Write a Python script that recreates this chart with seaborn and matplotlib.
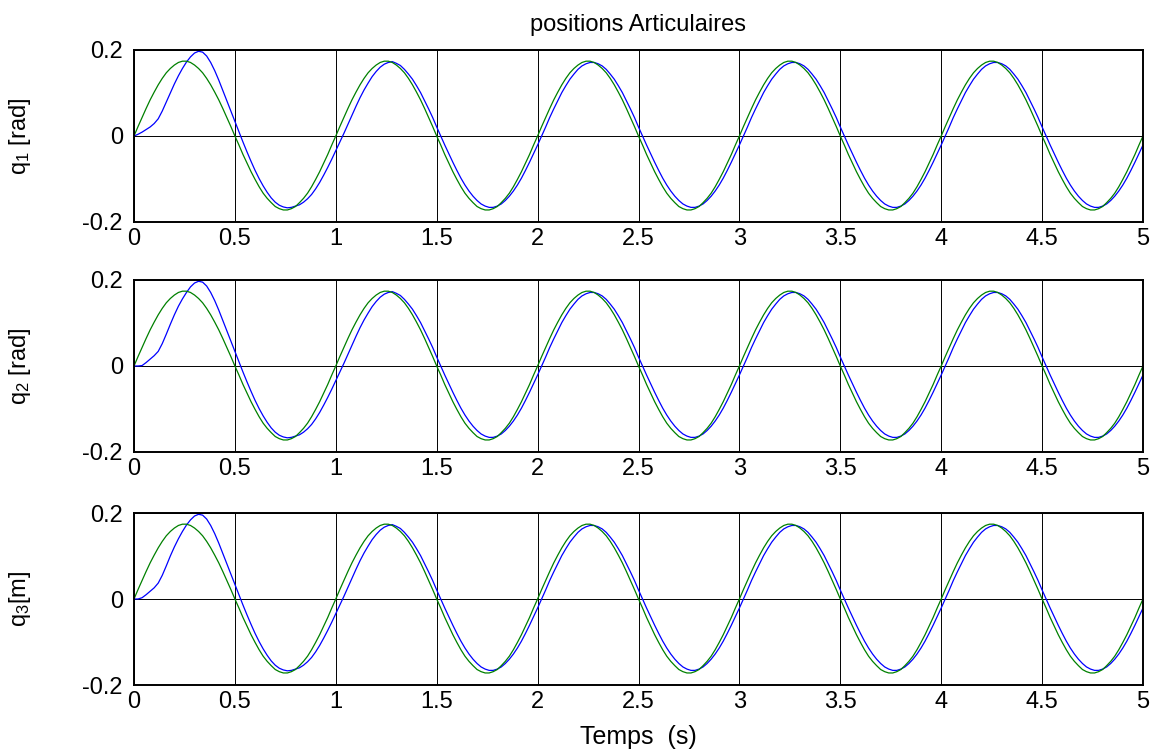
import numpy as np
import pandas as pd
import matplotlib
matplotlib.use("Agg")
import matplotlib.pyplot as plt
import seaborn as sns

t_step = 0.02
n_samples = 251

# reference trajectory (green), same on the three joints
green_ref = [
    0.000, 0.022, 0.043, 0.064, 0.084, 0.102, 0.119, 0.134, 0.147, 0.157,
    0.165, 0.171, 0.174, 0.174, 0.171, 0.165, 0.157, 0.147, 0.134, 0.119,
    0.102, 0.084, 0.064, 0.043, 0.022, 0.000, -0.021, -0.043, -0.063, -0.083,
    -0.101, -0.118, -0.133, -0.145, -0.155, -0.164, -0.169, -0.172, -0.172, -0.169,
    -0.164, -0.155, -0.145, -0.133, -0.118, -0.101, -0.083, -0.063, -0.043, -0.021,
    0.000, 0.022, 0.043, 0.064, 0.084, 0.102, 0.119, 0.134, 0.147, 0.157,
    0.165, 0.171, 0.174, 0.174, 0.171, 0.165, 0.157, 0.147, 0.134, 0.119,
    0.102, 0.084, 0.064, 0.043, 0.022, 0.000, -0.021, -0.043, -0.063, -0.083,
    -0.101, -0.118, -0.133, -0.145, -0.155, -0.164, -0.169, -0.172, -0.172, -0.169,
    -0.164, -0.155, -0.145, -0.133, -0.118, -0.101, -0.083, -0.063, -0.043, -0.021,
    0.000, 0.022, 0.043, 0.064, 0.084, 0.102, 0.119, 0.134, 0.147, 0.157,
    0.165, 0.171, 0.174, 0.174, 0.171, 0.165, 0.157, 0.147, 0.134, 0.119,
    0.102, 0.084, 0.064, 0.043, 0.022, 0.000, -0.021, -0.043, -0.063, -0.083,
    -0.101, -0.118, -0.133, -0.145, -0.155, -0.164, -0.169, -0.172, -0.172, -0.169,
    -0.164, -0.155, -0.145, -0.133, -0.118, -0.101, -0.083, -0.063, -0.043, -0.021,
    0.000, 0.022, 0.043, 0.064, 0.084, 0.102, 0.119, 0.134, 0.147, 0.157,
    0.165, 0.171, 0.174, 0.174, 0.171, 0.165, 0.157, 0.147, 0.134, 0.119,
    0.102, 0.084, 0.064, 0.043, 0.022, 0.000, -0.021, -0.043, -0.063, -0.083,
    -0.101, -0.118, -0.133, -0.145, -0.155, -0.164, -0.169, -0.172, -0.172, -0.169,
    -0.164, -0.155, -0.145, -0.133, -0.118, -0.101, -0.083, -0.063, -0.043, -0.021,
    0.000, 0.022, 0.043, 0.064, 0.084, 0.102, 0.119, 0.134, 0.147, 0.157,
    0.165, 0.171, 0.174, 0.174, 0.171, 0.165, 0.157, 0.147, 0.134, 0.119,
    0.102, 0.084, 0.064, 0.043, 0.022, 0.000, -0.021, -0.043, -0.063, -0.083,
    -0.101, -0.118, -0.133, -0.145, -0.155, -0.164, -0.169, -0.172, -0.172, -0.169,
    -0.164, -0.155, -0.145, -0.133, -0.118, -0.101, -0.083, -0.063, -0.043, -0.021,
    0.000,
]

# measured response of joint 1 (blue)
blue_q1 = [
    0.000, 0.004, 0.009, 0.015, 0.021, 0.029, 0.040, 0.058, 0.079, 0.100,
    0.121, 0.140, 0.157, 0.172, 0.184, 0.193, 0.197, 0.195, 0.186, 0.171,
    0.152, 0.130, 0.106, 0.082, 0.058, 0.034, 0.010, -0.014, -0.037, -0.059,
    -0.080, -0.099, -0.116, -0.131, -0.144, -0.154, -0.161, -0.165, -0.167, -0.166,
    -0.163, -0.160, -0.154, -0.146, -0.136, -0.123, -0.108, -0.091, -0.073, -0.054,
    -0.034, -0.014, 0.006, 0.027, 0.048, 0.069, 0.089, 0.107, 0.123, 0.138,
    0.150, 0.160, 0.167, 0.171, 0.173, 0.169, 0.164, 0.155, 0.144, 0.132,
    0.117, 0.101, 0.082, 0.063, 0.043, 0.021, 0.000, -0.021, -0.041, -0.061,
    -0.080, -0.098, -0.114, -0.128, -0.140, -0.150, -0.158, -0.163, -0.166, -0.166,
    -0.163, -0.158, -0.150, -0.140, -0.128, -0.114, -0.098, -0.080, -0.061, -0.041,
    -0.021, 0.000, 0.021, 0.043, 0.063, 0.082, 0.101, 0.117, 0.132, 0.144,
    0.155, 0.163, 0.168, 0.171, 0.171, 0.168, 0.163, 0.155, 0.144, 0.132,
    0.117, 0.101, 0.082, 0.063, 0.043, 0.021, 0.000, -0.021, -0.041, -0.061,
    -0.080, -0.098, -0.114, -0.128, -0.140, -0.150, -0.158, -0.163, -0.166, -0.166,
    -0.163, -0.158, -0.150, -0.140, -0.128, -0.114, -0.098, -0.080, -0.061, -0.041,
    -0.021, 0.000, 0.021, 0.043, 0.063, 0.082, 0.101, 0.117, 0.132, 0.144,
    0.155, 0.163, 0.168, 0.171, 0.171, 0.168, 0.163, 0.155, 0.144, 0.132,
    0.117, 0.101, 0.082, 0.063, 0.043, 0.021, 0.000, -0.021, -0.041, -0.061,
    -0.080, -0.098, -0.114, -0.128, -0.140, -0.150, -0.158, -0.163, -0.166, -0.166,
    -0.163, -0.158, -0.150, -0.140, -0.128, -0.114, -0.098, -0.080, -0.061, -0.041,
    -0.021, 0.000, 0.021, 0.043, 0.063, 0.082, 0.101, 0.117, 0.132, 0.144,
    0.155, 0.163, 0.168, 0.171, 0.171, 0.168, 0.163, 0.155, 0.144, 0.132,
    0.117, 0.101, 0.082, 0.063, 0.043, 0.021, 0.000, -0.021, -0.041, -0.061,
    -0.080, -0.098, -0.114, -0.128, -0.140, -0.150, -0.158, -0.163, -0.166, -0.166,
    -0.163, -0.158, -0.150, -0.140, -0.128, -0.114, -0.098, -0.080, -0.061, -0.041,
    -0.021,
]

# joints 2 and 3 differ from joint 1 only at start-up (flat before rising)
blue_q2_start = [0.000, 0.000, 0.001, 0.008, 0.016, 0.024, 0.034, 0.052, 0.074, 0.097,
                 0.119, 0.139, 0.156, 0.171]
blue_q3_start = [0.000, 0.000, 0.003, 0.010, 0.018, 0.026, 0.037, 0.055, 0.077]

y_labels = ["q$_1$ [rad]", "q$_2$ [rad]", "q$_3$[m]"]
x_ticks = [0, 0.5, 1, 1.5, 2, 2.5, 3, 3.5, 4, 4.5, 5]
x_tick_labels = ["0", "0.5", "1", "1.5", "2", "2.5", "3", "3.5", "4", "4.5", "5"]
y_ticks = [-0.2, 0, 0.2]
y_tick_labels = ["-0.2", "0", "0.2"]


def build_frame():
    t = np.arange(n_samples) * t_step
    blue_q2 = blue_q2_start + blue_q1[len(blue_q2_start):]
    blue_q3 = blue_q3_start + blue_q1[len(blue_q3_start):]
    rows = []
    for joint, blue in zip(["q1", "q2", "q3"], [blue_q1, blue_q2, blue_q3]):
        rows.append(pd.DataFrame({"t": t, "q": blue, "signal": "mesure", "joint": joint}))
        rows.append(pd.DataFrame({"t": t, "q": green_ref, "signal": "reference", "joint": joint}))
    return pd.concat(rows, ignore_index=True)


def generate_plot():
    sns.set_style("white")
    plt.rcParams["font.family"] = ["Liberation Sans", "DejaVu Sans"]
    plt.rcParams["mathtext.fontset"] = "custom"
    plt.rcParams["mathtext.rm"] = "Liberation Sans"
    plt.rcParams["mathtext.it"] = "Liberation Sans:italic"
    plt.rcParams["text.color"] = "black"
    plt.rcParams["axes.labelcolor"] = "black"

    df = build_frame()

    fig = plt.figure(figsize=(11.6, 7.51), dpi=100)
    fig.patch.set_facecolor("white")
    left, width, height = 134 / 1160, 1009 / 1160, 172 / 751
    bottoms = [(751 - 222) / 751, (751 - 452) / 751, (751 - 685) / 751]

    palette = {"mesure": "#0000ff", "reference": "#008000"}
    axes = []
    for i, joint in enumerate(["q1", "q2", "q3"]):
        ax = fig.add_axes([left, bottoms[i], width, height])
        sns.lineplot(
            data=df[df["joint"] == joint],
            x="t", y="q", hue="signal",
            hue_order=["mesure", "reference"],
            palette=palette, estimator=None,
            linewidth=0.9,
            legend=False, ax=ax,
        )
        ax.set_xlim(0, 5)
        ax.set_ylim(-0.2, 0.2)
        ax.set_xticks(x_ticks)
        ax.set_xticklabels(x_tick_labels)
        ax.set_yticks(y_ticks)
        ax.set_yticklabels(y_tick_labels)
        ax.grid(True, color="black", linewidth=0.7, linestyle="-")
        ax.set_axisbelow(True)
        for sp in ax.spines.values():
            sp.set_linewidth(1.4)
            sp.set_color("black")
        ax.tick_params(direction="in", length=4, width=0.8, labelsize=17,
                       colors="black", pad=4)
        ax.tick_params(axis="y", pad=8)
        ax.set_xlabel("")
        ax.set_ylabel(y_labels[i], fontsize=17)
        ax.yaxis.set_label_coords(-0.100, 0.5)
        axes.append(ax)

    axes[0].set_title("positions Articulaires", fontsize=17, pad=14)
    axes[2].set_xlabel("Temps  (s)", fontsize=18, labelpad=9)

    fig.savefig("out.png", dpi=100, facecolor="white")
    plt.close(fig)


if __name__ == "__main__":
    generate_plot()
